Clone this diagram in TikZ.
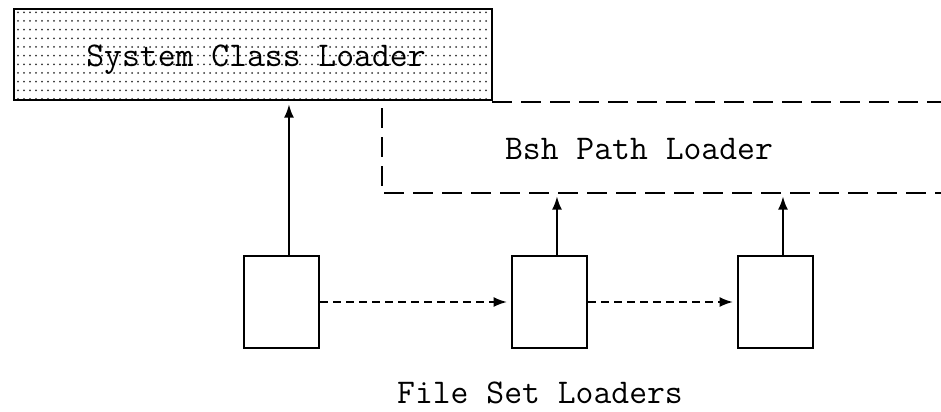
\documentclass[tikz,border=0pt]{standalone}
\usetikzlibrary{arrows.meta,patterns}

\pgfdeclarepatternformonly{sysdots}{\pgfqpoint{-1pt}{-1pt}}{\pgfqpoint{1pt}{1pt}}{\pgfqpoint{4.5pt}{6.5pt}}{%
  \pgfpathcircle{\pgfqpoint{0pt}{0pt}}{0.75pt}\pgfusepath{fill}}

\begin{document}
\begin{tikzpicture}[
    x=0.75pt, y=-0.75pt,
    >={Latex[length=10pt,width=7.5pt]},
    line width=1.5pt,
    every node/.style={font=\fontsize{26}{30}\selectfont\ttfamily},
    loaderbox/.style={draw, minimum width=56.25pt, minimum height=69pt, inner sep=0pt},
    bshline/.style={dash pattern=on 15pt off 6.75pt},
    chain/.style={->, dash pattern=on 6pt off 3.75pt, shorten >=3pt},
    up/.style={->, shorten >=2.5pt}
]
\useasboundingbox (0,0) rectangle (941,411);

% System class loader
\node[draw, pattern=sysdots, pattern color=black!80, minimum width=358.5pt,
      minimum height=68.25pt, inner sep=0pt] (sys) at (253,54.5) {};
\node[anchor=base] (syslabel) at (256,66) {System Class Loader};

% Bsh path loader (open dashed frame)
\coordinate (bshtop) at (492,102);
\coordinate (bshleft) at (382,108);
\coordinate (bshbot) at (382,193);
\draw[bshline] (bshtop) -- (941,102);
\draw[bshline] (bshleft) -- (bshbot) -- (941,193);
\node[anchor=base] (bsh) at (639,159) {Bsh Path Loader};

% File set loaders
\node[loaderbox] (fsl1) at (281.5,302) {};
\node[loaderbox] (fsl2) at (549.5,302) {};
\node[loaderbox] (fsl3) at (775.5,302) {};
\node[anchor=base] (fsllabel) at (540,403) {File Set Loaders};

% Delegation upwards
\draw[up] ([xshift=5.6pt]fsl1.north) -- ([xshift=5.6pt]fsl1.north |- sys.south);
\draw[up] ([xshift=5.6pt]fsl2.north) -- ([xshift=5.6pt]fsl2.north |- bshbot);
\draw[up] ([xshift=5.6pt]fsl3.north) -- ([xshift=5.6pt]fsl3.north |- bshbot);

% Chain between file set loaders
\draw[chain] (fsl1.east) -- (fsl2.west);
\draw[chain] (fsl2.east) -- (fsl3.west);
\end{tikzpicture}
\end{document}
